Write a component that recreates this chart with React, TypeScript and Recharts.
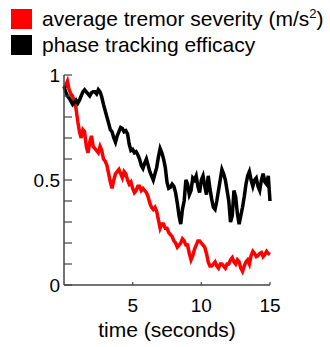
import { LineChart, Line, XAxis, YAxis, Legend } from "recharts";

const TIME = [
  0, 0.125, 0.25, 0.375, 0.5, 0.625, 0.75, 0.875, 1, 1.125, 1.25, 1.375, 1.5,
  1.625, 1.75, 1.875, 2, 2.125, 2.25, 2.375, 2.5, 2.625, 2.75, 2.875, 3, 3.125,
  3.25, 3.375, 3.5, 3.625, 3.75, 3.875, 4, 4.125, 4.25, 4.375, 4.5, 4.625, 4.75,
  4.875, 5, 5.125, 5.25, 5.375, 5.5, 5.625, 5.75, 5.875, 6, 6.125, 6.25, 6.375,
  6.5, 6.625, 6.75, 6.875, 7, 7.125, 7.25, 7.375, 7.5, 7.625, 7.75, 7.875, 8,
  8.125, 8.25, 8.375, 8.5, 8.625, 8.75, 8.875, 9, 9.125, 9.25, 9.375, 9.5,
  9.625, 9.75, 9.875, 10, 10.125, 10.25, 10.375, 10.5, 10.625, 10.75, 10.875,
  11, 11.125, 11.25, 11.375, 11.5, 11.625, 11.75, 11.875, 12, 12.125, 12.25,
  12.375, 12.5, 12.625, 12.75, 12.875, 13, 13.125, 13.25, 13.375, 13.5, 13.625,
  13.75, 13.875, 14, 14.125, 14.25, 14.375, 14.5, 14.625, 14.75, 14.875, 15,
];

const TREMOR = [
  0.94, 0.95, 0.97, 0.93, 0.91, 0.9, 0.87, 0.84,
  0.78, 0.73, 0.7, 0.74, 0.73, 0.66, 0.63, 0.68,
  0.71, 0.66, 0.65, 0.64, 0.63, 0.66, 0.64, 0.6,
  0.59, 0.57, 0.53, 0.49, 0.46, 0.5, 0.53, 0.54,
  0.55, 0.53, 0.51, 0.54, 0.53, 0.5, 0.48, 0.49,
  0.46, 0.44, 0.45, 0.47, 0.47, 0.45, 0.46, 0.45,
  0.44, 0.42, 0.39, 0.37, 0.36, 0.37, 0.35, 0.31,
  0.27, 0.29, 0.29, 0.27, 0.27, 0.25, 0.24, 0.23,
  0.21, 0.2, 0.18, 0.19, 0.2, 0.22, 0.21, 0.19,
  0.19, 0.15, 0.12, 0.14, 0.17, 0.19, 0.21, 0.21,
  0.2, 0.19, 0.18, 0.15, 0.11, 0.09, 0.09, 0.1,
  0.11, 0.09, 0.08, 0.1, 0.1, 0.09, 0.08, 0.1,
  0.1, 0.12, 0.13, 0.11, 0.1, 0.12, 0.11, 0.08,
  0.065, 0.09, 0.11, 0.12, 0.1, 0.14, 0.16, 0.15,
  0.135, 0.14, 0.15, 0.155, 0.135, 0.145, 0.16, 0.15,
  0.145,
];

const EFFICACY = [
  0.945, 0.92, 0.9, 0.89, 0.875, 0.86, 0.87, 0.88,
  0.865, 0.88, 0.9, 0.92, 0.93, 0.92, 0.91, 0.9,
  0.915, 0.92, 0.92, 0.91, 0.93, 0.92, 0.895, 0.86,
  0.83, 0.8, 0.77, 0.74, 0.73, 0.7, 0.68, 0.71,
  0.73, 0.75, 0.745, 0.73, 0.735, 0.72, 0.67, 0.64,
  0.645, 0.63, 0.635, 0.62, 0.6, 0.57, 0.555, 0.58,
  0.6, 0.57, 0.54, 0.52, 0.5, 0.53, 0.56, 0.61,
  0.65, 0.63, 0.6, 0.56, 0.49, 0.46, 0.465, 0.48,
  0.47, 0.44, 0.39, 0.33, 0.29, 0.36, 0.4, 0.5,
  0.48, 0.43, 0.45, 0.51, 0.5, 0.52, 0.47, 0.44,
  0.5, 0.52, 0.47, 0.43, 0.52, 0.46, 0.41, 0.37,
  0.36, 0.4, 0.45, 0.5, 0.55, 0.53, 0.5, 0.45,
  0.4, 0.3, 0.33, 0.45, 0.42, 0.34, 0.29, 0.33,
  0.37, 0.42, 0.48, 0.52, 0.54, 0.5, 0.47, 0.5,
  0.51, 0.47, 0.45, 0.5, 0.53, 0.49, 0.48, 0.52,
  0.4,
];

const Y_TICKS = [0, 0.1, 0.2, 0.3, 0.4, 0.5, 0.6, 0.7, 0.8, 0.9, 1];
const Y_LABELS = [0, 0.5, 1];
const X_TICKS = [5, 10, 15];

const data = TIME.map((t, i) => ({
  t,
  tremor: TREMOR[i],
  efficacy: EFFICACY[i],
}));

const FONT = '"Liberation Sans", Arial, sans-serif';
const AXIS = "#444";

const YTick = (props: any) => {
  const { x, y, payload } = props;
  const v = payload.value;
  return (
    <g>
      <line x1={x} x2={x + 8} y1={y} y2={y} stroke={AXIS} strokeWidth={1.2} />
      {Y_LABELS.includes(v) && (
        <text
          x={x - 4}
          y={y + 7}
          textAnchor="end"
          fontSize={19}
          fontFamily={FONT}
          fill="#000"
        >
          {v}
        </text>
      )}
    </g>
  );
};

const XTick = (props: any) => {
  const { x, y, payload } = props;
  return (
    <g>
      <line x1={x} x2={x} y1={y} y2={y - 3} stroke={AXIS} strokeWidth={1.2} />
      <text
        x={x}
        y={y + 27}
        textAnchor="middle"
        fontSize={19}
        fontFamily={FONT}
        fill="#000"
      >
        {payload.value}
      </text>
    </g>
  );
};

// "²" gets drawn as a small raised 2, like the original figure
const renderName = (name: string) => {
  const parts = name.split("²");
  if (parts.length < 2) return name;
  return (
    <>
      {parts[0]}
      <sup style={{ fontSize: 13, lineHeight: 0 }}>2</sup>
      {parts[1]}
    </>
  );
};

const LegendBox = (props: any) => {
  const { payload } = props;
  return (
    <div style={{ fontFamily: FONT, fontSize: 21, color: "#000" }}>
      {payload.map((entry: any) => (
        <div
          key={entry.value}
          style={{
            display: "flex",
            alignItems: "center",
            height: 26,
            whiteSpace: "nowrap",
          }}
        >
          <div
            style={{
              width: 21,
              height: 20,
              background: entry.color,
              marginRight: 10,
            }}
          />
          <span>{renderName(entry.value)}</span>
        </div>
      ))}
    </div>
  );
};

export default function App() {
  return (
    <div style={{ position: "absolute", left: 0, top: 0 }}>
      <LineChart
        width={330}
        height={347}
        data={data}
        margin={{ top: 75, right: 60, bottom: 32, left: 0 }}
      >
        <XAxis
          dataKey="t"
          type="number"
          domain={[0, 15]}
          ticks={X_TICKS}
          tick={<XTick />}
          tickLine={false}
          tickSize={0}
          tickMargin={0}
          height={30}
          axisLine={{ stroke: AXIS, strokeWidth: 1.5 }}
          label={{
            value: "time (seconds)",
            position: "insideBottom",
            offset: -22,
            fontSize: 21,
            fontFamily: FONT,
            fill: "#000",
          }}
        />
        <YAxis
          type="number"
          domain={[0, 1]}
          ticks={Y_TICKS}
          tick={<YTick />}
          tickLine={false}
          tickSize={0}
          tickMargin={0}
          width={64}
          interval={0}
          axisLine={{ stroke: AXIS, strokeWidth: 1.5 }}
        />
        <Legend
          layout="vertical"
          align="center"
          verticalAlign="middle"
          content={<LegendBox />}
          wrapperStyle={{ top: 6, left: 11, width: 330 }}
        />
        <Line
          dataKey="tremor"
          name="average tremor severity (m/s²)"
          stroke="#ff0000"
          strokeWidth={3.5}
          strokeLinejoin="miter"
          dot={false}
          type="linear"
          isAnimationActive={false}
        />
        <Line
          dataKey="efficacy"
          name="phase tracking efficacy"
          stroke="#000000"
          strokeWidth={3.5}
          strokeLinejoin="miter"
          dot={false}
          type="linear"
          isAnimationActive={false}
        />
      </LineChart>
    </div>
  );
}
